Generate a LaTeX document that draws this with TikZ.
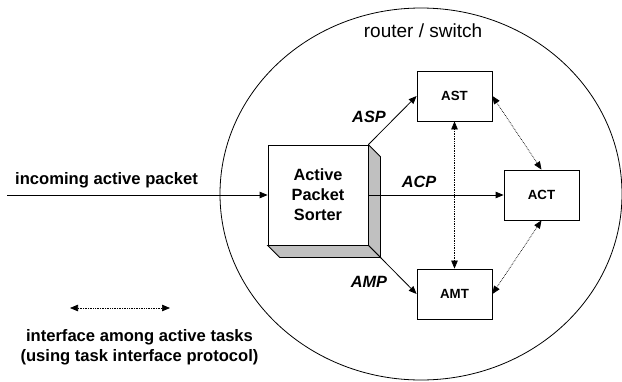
\documentclass[tikz,border=0pt]{standalone}
\usepackage{fontspec}
\setmainfont{Liberation Sans}
\usetikzlibrary{arrows.meta}
\definecolor{shade}{HTML}{C0C0C0}
\tikzset{
  task/.style={draw, line width=0.8pt, fill=white, minimum width=75pt, minimum height=50pt,
    inner sep=0pt, font=\fontsize{13.3}{15}\selectfont\bfseries},
  flow/.style={draw, line width=0.8pt, -{Triangle[length=8pt,width=6.5pt]}},
  link/.style={draw, line width=0.7pt, densely dotted,
    {Triangle[length=8pt,width=6.5pt]}-{Triangle[length=8pt,width=6.5pt]}},
  tag/.style={font=\fontsize{16.3}{18}\selectfont\bfseries\itshape, inner sep=0pt},
  plain/.style={font=\fontsize{16.6}{19.4}\selectfont\bfseries, inner sep=0pt, align=center}
}
\begin{document}
\begin{tikzpicture}[x=1pt, y=-1pt]
\useasboundingbox (0,0) rectangle (622,381);

% router boundary
\draw[line width=0.8pt] (421,194) ellipse [x radius=201, y radius=186];
\node[font=\fontsize{19}{21}\selectfont, inner sep=0pt, anchor=base] (router) at (423,37) {router / switch};

% sorter block with its raised faces
\node[draw, line width=0.8pt, fill=white, minimum width=100pt, minimum height=100pt, inner sep=0pt,
      align=center, font=\fontsize{16.3}{20}\selectfont\bfseries] (sorter) at (318,195)
      {Active\\Packet\\Sorter};
\coordinate (sbk) at ([shift={(12,12)}]sorter.south east);
\draw[line width=0.8pt, fill=shade] (sorter.north east) -- ++(12,12) -- (sbk) -- (sorter.south east) -- cycle;
\draw[line width=0.8pt, fill=shade] (sorter.south west) -- ++(12,12) -- (sbk) -- (sorter.south east) -- cycle;

% active tasks
\node[task] (ast) at (454.5,96) {AST};
\node[task] (act) at (541.5,195) {ACT};
\node[task] (amt) at (454.5,294) {AMT};

% packet flows
\coordinate (src) at (7,195);
\draw[flow] (src) -- (sorter.west);
\node[plain, anchor=base west] (inlabel) at (15,184) {incoming active packet};
\draw[flow] (sorter.north east) -- (ast.west);
\draw[flow] (sorter.east) -- (act.west);
\draw[flow] (sbk) -- (amt.west);
\node[tag] (asp) at (369,117) {ASP};
\node[tag] (acp) at (419,182) {ACP};
\node[tag] (amp) at (369,282) {AMP};

% task interfaces
\draw[link] (ast.south) -- (amt.north);
\draw[link] (ast.east) -- (act.north);
\draw[link] (amt.east) -- (act.south);

% legend
\coordinate (lga) at (70,308);
\coordinate (lgb) at (170,308);
\draw[link] (lga) -- (lgb);
\node[plain, anchor=north] (legend) at (139.5,329.5) {interface among active tasks\\(using task interface protocol)};
\end{tikzpicture}
\end{document}
